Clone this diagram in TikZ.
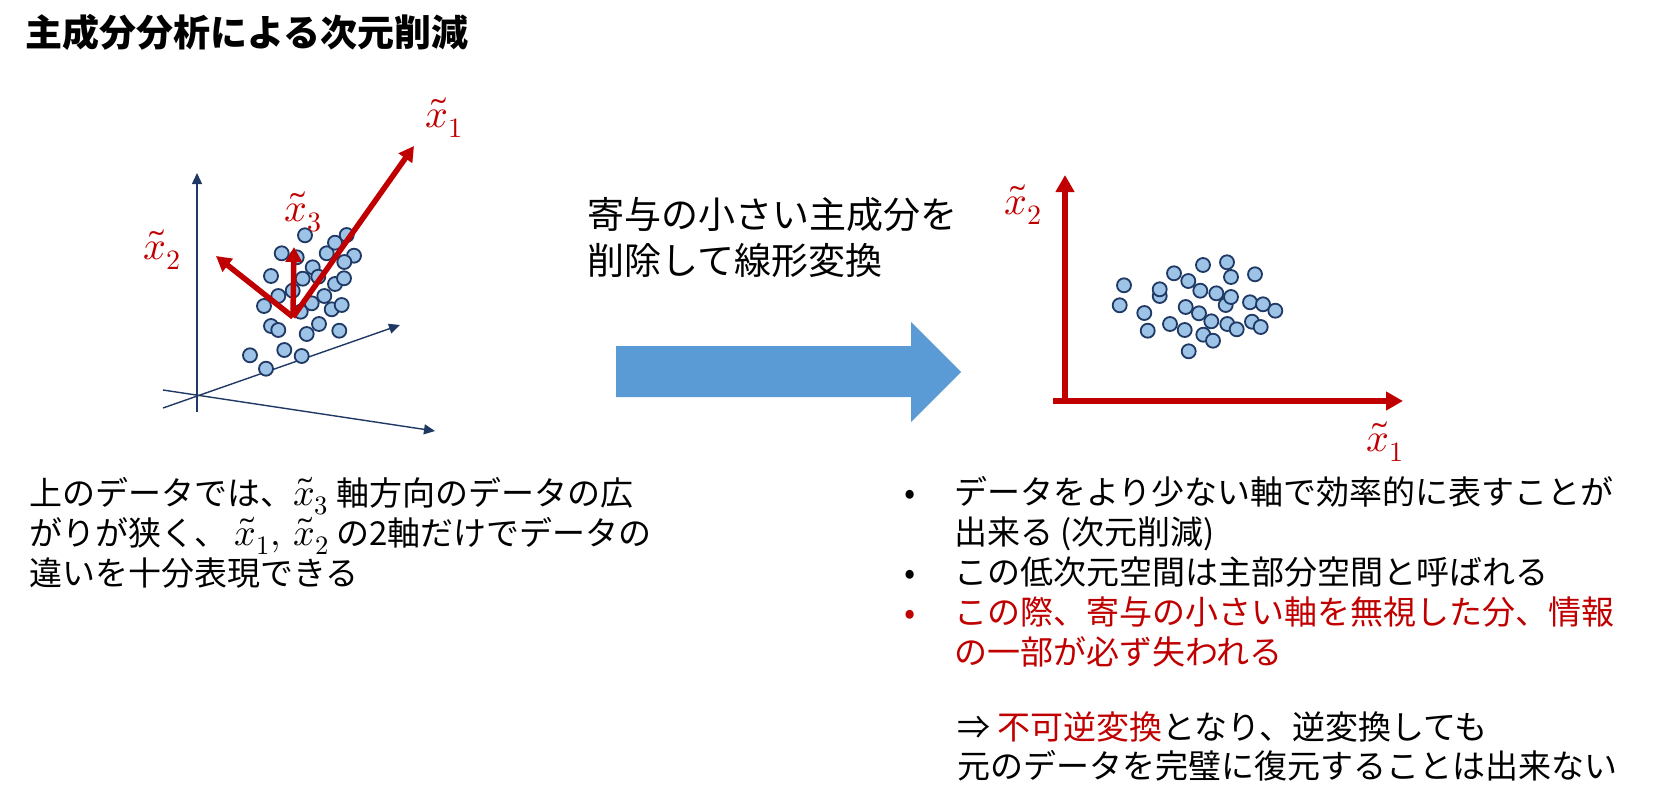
\documentclass[tikz,border=0pt]{standalone}
\usepackage{fontspec}
\usepackage{unicode-math}
\setmainfont{Noto Sans CJK JP}
\setmathfont{Latin Modern Math}
\usetikzlibrary{arrows.meta}
\definecolor{pcared}{HTML}{C00000}
\definecolor{navy}{HTML}{1F3864}
\definecolor{dotfill}{HTML}{9DC3E6}
\definecolor{bigblue}{HTML}{5B9BD5}
\newcommand{\mymath}[1]{{\fontsize{38}{40}\selectfont$#1$}}
\tikzset{
  txt/.style={anchor=base west, inner sep=0pt, font=\fontsize{33}{40}\selectfont},
  bul/.style={anchor=base, inner sep=0pt, font=\fontsize{33}{40}\selectfont},
  midtxt/.style={anchor=base west, inner sep=0pt, font=\fontsize{37}{44}\selectfont},
  titletxt/.style={anchor=base west, inner sep=0pt, font=\fontsize{37}{44}\selectfont\bfseries},
  dot/.style={circle, draw=navy, fill=dotfill, line width=1.8pt, minimum size=14pt, inner sep=0pt},
  thinax/.style={navy, line width=1.4pt, -{Triangle[length=11pt,width=10pt]}},
  redax/.style={pcared, line width=6pt, -{Triangle[length=17pt,width=18pt]}},
  pcarr/.style={pcared, line width=5.5pt, -{Triangle[length=15pt,width=16pt]}},
  mlab/.style={text=pcared, inner sep=0pt, font=\fontsize{40}{44}\selectfont},
}
\begin{document}
\begin{tikzpicture}[x=1pt,y=-1pt]
\useasboundingbox (0,0) rectangle (1663,807);
% title
\node[titletxt] (title) at (25,46) {主成分分析による次元削減};

% ---------- left 3D plot ----------
\coordinate (vb) at (197,412);
\coordinate (vt) at (197,173);
\coordinate (ab) at (163,408);
\coordinate (at2) at (400,325);
\coordinate (cb) at (163,390);
\coordinate (ct) at (435,431);
\draw[thinax] (vb) -- (vt);
\draw[thinax] (ab) -- (at2);
\draw[thinax] (cb) -- (ct);

\foreach \p [count=\i] in {(305,235.3),(281.7,253.3),(296.7,257.3),(326.7,253.3),(335,242.7),(346.7,235),(354,255.7),(344.3,262),(312.7,267.3),(302.7,278.7),(318.3,276.7),(271,276),(335,284),(344,278.3),(278.3,296),(292.7,290.7),(324.3,296),(264,306),(311.7,303.3),(300.7,311.7),(331.7,309.3),(341.7,305),(271,326),(278.3,330),(306.7,334),(319,324),(339.3,330.7),(250,355.3),(284.3,350),(301.7,356),(266,368.7)}
  \node[dot] (dl\i) at \p {};

\coordinate (po) at (293,317);
\coordinate (p1) at (414,146);
\coordinate (p2) at (216,256);
\coordinate (p3) at (294,247);
\draw[pcarr] (po) -- (p2);
\draw[pcarr] (po) -- (p3);
\draw[pcarr] (po) -- (p1);
\node[mlab] (l1) at (444,118) {$\tilde{x}_1$};
\node[mlab] (l3) at (303,212) {$\tilde{x}_3$};
\node[mlab] (l2) at (162,250) {$\tilde{x}_2$};

% left text
\node[txt] (lt1) at (29,505) {上のデータでは、\mymath{\tilde{x}_3} 軸方向のデータの広};
\node[txt] (lt2) at (29,545) {がりが狭く、 \mymath{\tilde{x}_1,\, \tilde{x}_2} の2軸だけでデータの};
\node[txt] (lt3) at (29,585) {違いを十分表現できる};

% middle
\node[midtxt] (m1) at (587,228) {寄与の小さい主成分を};
\node[midtxt] (m2) at (587,274) {削除して線形変換};
\fill[bigblue] (616,346) -- (911,346) -- (911,322) -- (961,372) -- (911,422) -- (911,397) -- (616,397) -- cycle;

% ---------- right 2D plot ----------
\coordinate (ro) at (1065,404);
\coordinate (ryt) at (1065,175);
\coordinate (rxb) at (1053,401);
\coordinate (rxt) at (1403,401);
\draw[redax] (ro) -- (ryt);
\draw[redax] (rxb) -- (rxt);
\node[mlab] (r2) at (1023,205) {$\tilde{x}_2$};
\node[mlab] (r1) at (1385,442) {$\tilde{x}_1$};

\foreach \p [count=\i] in {(1124,285.3),(1119.7,305.3),(1144.3,313),(1147.7,330.7),(1159.7,296),(1159.7,289.3),(1174,273.3),(1188.3,281),(1203,265),(1227,262.3),(1231,277),(1255,274.3),(1200.3,290.7),(1216.3,293.3),(1225.7,305),(1231,297),(1185.7,307),(1199,313.3),(1170,324),(1184.7,330),(1211.3,321.3),(1203.3,334.7),(1213,340.7),(1188.7,351.3),(1227.3,324),(1236.7,329.3),(1250,302.3),(1263,304.3),(1275.3,310.7),(1252,321.7),(1260.7,327)}
  \node[dot] (dr\i) at \p {};

% right text
\node[bul] (b1) at (910,504) {•};
\node[txt] (rt1) at (954,504) {データをより少ない軸で効率的に表すことが};
\node[txt] (rt2) at (954,544) {出来る (次元削減)};
\node[bul] (b2) at (910,584) {•};
\node[txt] (rt3) at (954,584) {この低次元空間は主部分空間と呼ばれる};
\node[bul, text=pcared] (b3) at (910,624) {•};
\node[txt, text=pcared] (rt4) at (954,624) {この際、寄与の小さい軸を無視した分、情報};
\node[txt, text=pcared] (rt5) at (954,664) {の一部が必ず失われる};
\node[txt] (rt6) at (957,739) {⇒ \textcolor{pcared}{不可逆変換}となり、逆変換しても};
\node[txt] (rt7) at (957,778) {元のデータを完璧に復元することは出来ない};
\end{tikzpicture}
\end{document}
